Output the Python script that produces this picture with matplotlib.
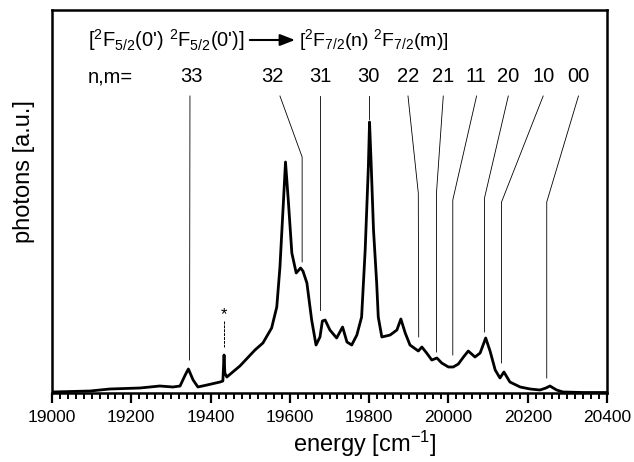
import numpy as np
import matplotlib
matplotlib.use("Agg")
import matplotlib.pyplot as plt
from matplotlib.ticker import MultipleLocator

plt.rcParams['font.family'] = ['Liberation Sans', 'DejaVu Sans']
plt.rcParams['mathtext.fontset'] = 'custom'
plt.rcParams['mathtext.rm'] = 'Liberation Sans'
plt.rcParams['mathtext.it'] = 'Liberation Sans:italic'
plt.rcParams['mathtext.bf'] = 'Liberation Sans:bold'

# ---- spectrum (energy in cm^-1, photons in a.u.) ----
energy = [19000, 19096, 19146, 19222, 19272, 19305, 19323, 19336, 19344, 19356,
          19368, 19391, 19424, 19431, 19434, 19436, 19441, 19474, 19512, 19532,
          19554, 19567, 19575, 19584, 19589, 19596, 19605, 19616, 19627, 19633,
          19643, 19655, 19666, 19676, 19682, 19689, 19701, 19718, 19733, 19744,
          19756, 19769, 19781, 19790, 19798, 19801, 19805, 19811, 19819, 19823,
          19832, 19853, 19870, 19880, 19891, 19903, 19924, 19933, 19945, 19958,
          19971, 19983, 20000, 20012, 20025, 20038, 20050, 20067, 20080, 20094,
          20105, 20118, 20130, 20140, 20155, 20181, 20206, 20231, 20246, 20256,
          20273, 20289, 20340, 20400]
photons = [1, 2, 4, 5, 7, 6, 7, 18, 24, 13,
           6, 8, 11, 12, 38, 20, 16, 27, 43, 50,
           65, 86, 126, 193, 231, 193, 140, 120, 125, 122,
           110, 73, 48, 56, 72, 73, 63, 55, 66, 51,
           48, 58, 76, 143, 226, 271, 230, 163, 110, 76,
           56, 58, 63, 74, 60, 48, 42, 46, 40, 33,
           35, 30, 26, 26, 29, 36, 42, 36, 40, 55,
           42, 23, 15, 21, 11, 6, 4, 3, 5, 7,
           3, 1, 0.5, 0.5]

# ---- assignments n,m ----
labels = ['33', '32', '31', '30', '22', '21', '11', '20', '10', '00']
label_x = [19352, 19557, 19676, 19797, 19898, 19986, 20070, 20150, 20239, 20327]
line_top_x = [19348, 19575, 19677, 19800, 19898, 19987, 20071, 20151, 20239, 20328]
line_bend = [None, (19631, 236), None, None, (19924, 200), (19970, 201),
             (20011, 193), (20091, 195), (20134, 191), (20248, 191)]
line_end = [(19347, 33), (19631, 131), (19677, 83), (19800, 274), (19925, 56),
            (19970, 41), (20011, 38), (20091, 61), (20134, 30), (20248, 15)]

fig = plt.figure(figsize=(6.34, 4.62), dpi=100)
W, H = 634, 462
ax = fig.add_axes([52 / W, 1 - 393 / H, (607 - 52) / W, (393 - 10) / H])

ax.plot(energy, photons, color='black', lw=2.0, solid_joinstyle='round')
ax.set_xlim(19000, 20400)
ax.set_ylim(0, 383)

ax.xaxis.set_major_locator(MultipleLocator(200))
ax.xaxis.set_minor_locator(MultipleLocator(20))
ax.tick_params(axis='x', which='major', direction='out', length=7, width=1.6,
               labelsize=12.5, pad=5, top=False)
ax.tick_params(axis='x', which='minor', direction='out', length=4, width=1.4, top=False)
ax.set_yticks([])
for s in ax.spines.values():
    s.set_linewidth(1.8)

# annotation leader lines
line_top_y = 297
for i, lab in enumerate(labels):
    xs = [line_top_x[i]]
    ys = [line_top_y]
    if line_bend[i] is not None:
        xs.append(line_bend[i][0]); ys.append(line_bend[i][1])
    xs.append(line_end[i][0]); ys.append(line_end[i][1])
    ax.plot(xs, ys, color='black', lw=0.6)
    ax.text(label_x[i], 316, lab, ha='center', va='center', fontsize=14.5)
ax.text(19091, 316, 'n,m=', ha='left', va='center', fontsize=14.5)

# star marker for spurious line
ax.text(19434, 78, '*', ha='center', va='center', fontsize=12)
ax.plot([19434, 19434], [72, 46], color='black', lw=0.7, ls=(0, (3, 1)))

# transition header
ax.text(19091, 353, "[$^2$F$_{5/2}$(0') $^2$F$_{5/2}$(0')]", ha='left', va='center',
        fontsize=14.5)
ax.annotate('', xy=(19613, 353), xytext=(19499, 353),
            arrowprops=dict(arrowstyle='-|>,head_length=0.9,head_width=0.35',
                            color='black', lw=1.5, shrinkA=0, shrinkB=0))
ax.text(19624, 353, "[$^2$F$_{7/2}$(n) $^2$F$_{7/2}$(m)]", ha='left', va='center',
        fontsize=14)

fig.text(365 / W, 1 - 444 / H, 'energy [cm$^{-1}$]', ha='center', va='center', fontsize=17)
fig.text(24 / W, 1 - 172 / H, 'photons [a.u.]', ha='center', va='center',
         rotation=90, fontsize=17)

fig.savefig('out.png', dpi=100)
